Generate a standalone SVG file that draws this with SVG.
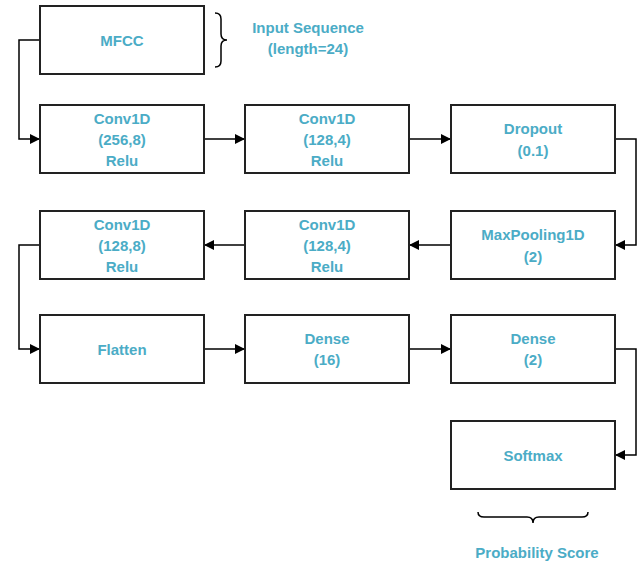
<svg xmlns="http://www.w3.org/2000/svg" width="641" height="563" viewBox="0 0 641 563">
<defs>
<marker id="ah" viewBox="0 0 10 10" refX="10" refY="5" markerWidth="10" markerHeight="10" markerUnits="userSpaceOnUse" orient="auto">
<path d="M0,0 L10,5 L0,10 Z" fill="#000"/>
</marker>
</defs>
<style>
.box{fill:#fff;stroke:#222;stroke-width:2}
.t{font-family:"Liberation Sans",Arial,sans-serif;font-weight:bold;font-size:15px;fill:#4BACC6;text-anchor:middle}
.c{fill:none;stroke:#000;stroke-width:1.5;marker-end:url(#ah)}
.br{fill:none;stroke:#000;stroke-width:1.5}
</style>
<rect width="641" height="563" fill="#fff"/>
<g id="connectors">
<path class="c" d="M40,40 H19 V139 H40"/>
<path class="c" d="M204,139 H245"/>
<path class="c" d="M409,139 H451"/>
<path class="c" d="M615,139 H636 V245 H615"/>
<path class="c" d="M451,245 H409"/>
<path class="c" d="M245,245 H204"/>
<path class="c" d="M40,245 H19 V349 H40"/>
<path class="c" d="M204,349 H245"/>
<path class="c" d="M409,349 H451"/>
<path class="c" d="M615,349 H636 V455 H615"/>
</g>
<g id="mfcc"><rect class="box" x="40" y="6" width="164" height="68"/><text class="t" x="122" y="46">MFCC</text></g>
<g id="input-brace"><path class="br" d="M215,13 Q221,13 221,19 V34 Q221,40 227,40 Q221,40 221,46 V61 Q221,67 215,67"/>
<text class="t" x="308" y="33">Input Sequence</text><text class="t" x="308" y="54">(length=24)</text></g>
<g id="conv1"><rect class="box" x="40" y="105" width="164" height="68"/><text class="t" x="122" y="124">Conv1D</text><text class="t" x="122" y="145">(256,8)</text><text class="t" x="122" y="166">Relu</text></g>
<g id="conv2"><rect class="box" x="245" y="105" width="164" height="68"/><text class="t" x="327" y="124">Conv1D</text><text class="t" x="327" y="145">(128,4)</text><text class="t" x="327" y="166">Relu</text></g>
<g id="dropout"><rect class="box" x="451" y="105" width="164" height="68"/><text class="t" x="533" y="134">Dropout</text><text class="t" x="533" y="156">(0.1)</text></g>
<g id="maxpool"><rect class="box" x="451" y="211" width="164" height="68"/><text class="t" x="533" y="240">MaxPooling1D</text><text class="t" x="533" y="262">(2)</text></g>
<g id="conv3"><rect class="box" x="245" y="211" width="164" height="68"/><text class="t" x="327" y="230">Conv1D</text><text class="t" x="327" y="251">(128,4)</text><text class="t" x="327" y="272">Relu</text></g>
<g id="conv4"><rect class="box" x="40" y="211" width="164" height="68"/><text class="t" x="122" y="230">Conv1D</text><text class="t" x="122" y="251">(128,8)</text><text class="t" x="122" y="272">Relu</text></g>
<g id="flatten"><rect class="box" x="40" y="315" width="164" height="68"/><text class="t" x="122" y="355">Flatten</text></g>
<g id="dense16"><rect class="box" x="245" y="315" width="164" height="68"/><text class="t" x="327" y="344">Dense</text><text class="t" x="327" y="365">(16)</text></g>
<g id="dense2"><rect class="box" x="451" y="315" width="164" height="68"/><text class="t" x="533" y="344">Dense</text><text class="t" x="533" y="365">(2)</text></g>
<g id="softmax"><rect class="box" x="451" y="421" width="164" height="68"/><text class="t" x="533" y="461">Softmax</text></g>
<g id="output-brace"><path class="br" d="M478,512 Q478,517 484,517 H527 Q533,517 533,523 Q533,517 539,517 H582 Q588,517 588,512"/>
<text class="t" x="537" y="558">Probability Score</text></g>
</svg>
